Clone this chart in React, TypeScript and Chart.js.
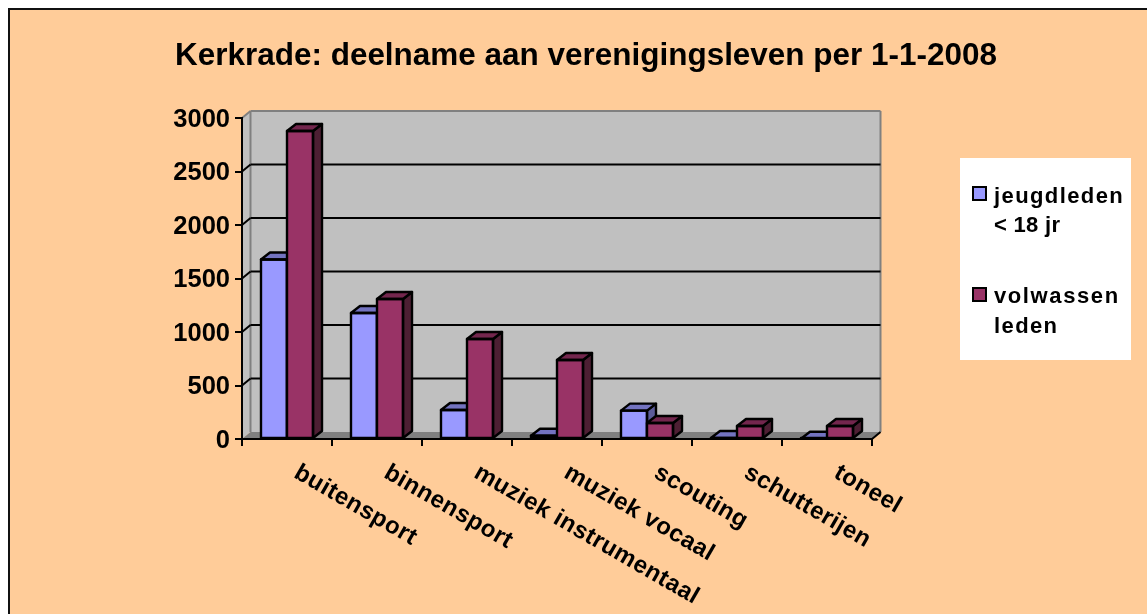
import React, { useEffect, useRef } from "react";
import { Chart, registerables } from "chart.js";

Chart.register(...registerables);

const titleText = "Kerkrade: deelname aan verenigingsleven per 1-1-2008";
const categories = ["buitensport", "binnensport", "muziek instrumentaal", "muziek vocaal", "scouting", "schutterijen", "toneel"];
const youthLabel = "jeugdleden < 18 jr";
const adultLabel = "volwassen leden";
const youthValues = [1678, 1178, 271, 30, 265, 10, 2];
const adultValues = [2878, 1308, 935, 738, 150, 121, 121];
const legendEntries = [
  { lines: [["jeugdleden", 1.4], ["< 18 jr", 0.3]] as [string, number][], fill: "#9999FF" },
  { lines: [["volwassen", 1.6], ["leden", 1.4]] as [string, number][], fill: "#993366" },
];

const FONT = '"Liberation Sans", Arial, sans-serif';
const DEPTH_X = 9;
const DEPTH_Y = 7;
const faceColors = [
  { top: "#7373C0", side: "#5C5C99" },
  { top: "#73264D", side: "#4D1F33" },
];

function poly(ctx: CanvasRenderingContext2D, pts: number[][], fill?: string, stroke?: string, lw = 2) {
  ctx.beginPath();
  pts.forEach((p, i) => (i ? ctx.lineTo(p[0], p[1]) : ctx.moveTo(p[0], p[1])));
  if (pts.length > 2) ctx.closePath();
  if (fill) {
    ctx.fillStyle = fill;
    ctx.fill();
  }
  if (stroke) {
    ctx.strokeStyle = stroke;
    ctx.lineWidth = lw;
    ctx.stroke();
  }
}

function drawFaces(chart: any, index: number) {
  const ctx: CanvasRenderingContext2D = chart.ctx;
  const meta = chart.getDatasetMeta(index);
  const c = faceColors[index];
  meta.data.forEach((bar: any) => {
    const p = bar.getProps(["x", "y", "base", "width"], true);
    const l = p.x - p.width / 2;
    const r = p.x + p.width / 2;
    const t = p.y;
    const b = p.base;
    ctx.save();
    ctx.lineJoin = "round";
    poly(ctx, [[r, t], [r + DEPTH_X, t - DEPTH_Y], [r + DEPTH_X, b - DEPTH_Y], [r, b]], c.side, "#000", 2.4);
    poly(ctx, [[l, t], [l + DEPTH_X, t - DEPTH_Y], [r + DEPTH_X, t - DEPTH_Y], [r, t]], c.top, "#000", 2.4);
    poly(ctx, [[l, t], [r, t], [r, b], [l, b]], undefined, "#000", 2.4);
    ctx.restore();
  });
}

const threeD = {
  id: "threeD",
  beforeDraw(chart: any) {
    const { ctx, chartArea: a, width, height } = chart;
    const y = chart.scales.y;
    ctx.save();
    ctx.fillStyle = "#FFFFFF";
    ctx.fillRect(0, 0, width, height);
    ctx.fillStyle = "#FFCC99";
    ctx.fillRect(9, 9, width - 9, height - 9);
    ctx.beginPath();
    ctx.moveTo(9, height);
    ctx.lineTo(9, 9);
    ctx.lineTo(width, 9);
    ctx.strokeStyle = "#111";
    ctx.lineWidth = 2;
    ctx.stroke();

    const wx = 8.5;
    const wy = 7;
    const grey = "#808080";
    poly(ctx, [[a.left, a.top], [a.left + wx, a.top - wy], [a.right + wx, a.top - wy], [a.right + wx, a.bottom - wy], [a.left + wx, a.bottom - wy], [a.left, a.bottom]], "#C0C0C0");
    poly(ctx, [[a.left, a.bottom], [a.left + wx, a.bottom - wy], [a.right + wx, a.bottom - wy], [a.right, a.bottom]], grey);
    poly(ctx, [[a.left, a.top], [a.left + wx, a.top - wy]], undefined, grey);
    poly(ctx, [[a.left + wx, a.bottom - wy], [a.left + wx, a.top - wy]], undefined, grey);
    poly(ctx, [[a.left + wx, a.top - wy], [a.right + wx, a.top - wy]], undefined, grey);
    poly(ctx, [[a.right + wx, a.top - wy], [a.right + wx, a.bottom - wy]], undefined, grey);
    y.ticks.forEach((t: any) => {
      if (t.value === 0 || t.value === 3000) return;
      const py = y.getPixelForValue(t.value);
      poly(ctx, [[a.left, py], [a.left + wx, py - wy]], undefined, "#000");
      poly(ctx, [[a.left + wx, py - wy], [a.right + wx, py - wy]], undefined, "#000");
    });
    poly(ctx, [[a.right, a.bottom], [a.right + wx, a.bottom - wy]], undefined, "#000");
    ctx.restore();
  },
  afterLayout(chart: any) {
    chart.titleBlock.left = 175;
    chart.titleBlock.right = 997;
  },
  beforeDatasetDraw(chart: any, args: any) {
    if (args.index === 0) return false;
    chart.getDatasetMeta(0).controller.draw();
    drawFaces(chart, 0);
    return undefined;
  },
  afterDatasetDraw(chart: any, args: any) {
    if (args.index === 1) drawFaces(chart, 1);
  },
  afterDraw(chart: any) {
    const { ctx } = chart;
    const x = chart.scales.x;
    ctx.save();
    ctx.fillStyle = "#000";
    ctx.font = `bold 24px ${FONT}`;
    (ctx as any).letterSpacing = "0.5px";
    ctx.textAlign = "left";
    ctx.textBaseline = "middle";
    (chart.data.labels as string[]).forEach((label, i) => {
      ctx.save();
      ctx.translate(x.getPixelForValue(i) + 9, chart.chartArea.bottom + 32);
      ctx.rotate((30 * Math.PI) / 180);
      ctx.fillText(label, 0, 0);
      ctx.restore();
    });
    ctx.restore();

    ctx.save();
    ctx.fillStyle = "#FFFFFF";
    ctx.fillRect(960, 158, 171, 202);
    ctx.font = `bold 22px ${FONT}`;
    ctx.textBaseline = "alphabetic";
    const tops = [187, 288];
    const bases = [[203, 232], [303, 333]];
    legendEntries.forEach((entry, i) => {
      ctx.fillStyle = entry.fill;
      ctx.strokeStyle = "#000";
      ctx.lineWidth = 2;
      ctx.fillRect(973, tops[i], 13, 13);
      ctx.strokeRect(973, tops[i], 13, 13);
      ctx.fillStyle = "#000";
      entry.lines.forEach(([text, spacing], j) => {
        (ctx as any).letterSpacing = `${spacing}px`;
        ctx.fillText(text, 994, bases[i][j]);
      });
    });
    ctx.restore();
  },
};

export default function App() {
  const ref = useRef<HTMLCanvasElement>(null);
  useEffect(() => {
    const chart = new Chart(ref.current!, {
      type: "bar",
      plugins: [threeD],
      data: {
        labels: categories,
        datasets: [
          { label: youthLabel, data: youthValues, backgroundColor: "#9999FF", borderWidth: 0, clip: false as any },
          { label: adultLabel, data: adultValues, backgroundColor: "#993366", borderWidth: 0, clip: false as any },
        ],
      },
      options: {
        responsive: false,
        animation: false,
        layout: { padding: { left: 165, right: 275, top: 37, bottom: 175 } },
        datasets: { bar: { categoryPercentage: 0.578, barPercentage: 1 } },
        plugins: {
          legend: { display: false },
          tooltip: { enabled: false },
          title: {
            display: true,
            text: titleText,
            color: "#000",
            padding: { top: 0, bottom: 43.2 },
            font: { family: FONT, size: 31.5, weight: "bold" },
          },
        },
        scales: {
          x: {
            afterFit: (s: any) => { s.height = 0; },
            ticks: { display: false },
            grid: { drawOnChartArea: false, drawTicks: true, tickLength: 7, color: "#000", lineWidth: 2 },
            border: { display: true, color: "#000", width: 2 },
          },
          y: {
            min: 0,
            max: 3000,
            afterFit: (s: any) => { s.width = 77; },
            ticks: {
              stepSize: 500,
              color: "#000",
              padding: 5,
              labelOffset: 1.5,
              font: { family: FONT, size: 25.5, weight: "bold" },
              callback: (v: any) => String(v),
            },
            grid: { drawOnChartArea: false, drawTicks: true, tickLength: 7, color: "#000", lineWidth: 2 },
            border: { display: true, color: "#000", width: 2 },
          },
        },
      } as any,
    });
    return () => chart.destroy();
  }, []);
  return (
    <div style={{ position: "fixed", left: 0, top: 0, width: 1147, height: 614, overflow: "hidden", background: "#fff" }}>
      <canvas ref={ref} width={1147} height={614} style={{ display: "block" }} />
    </div>
  );
}
